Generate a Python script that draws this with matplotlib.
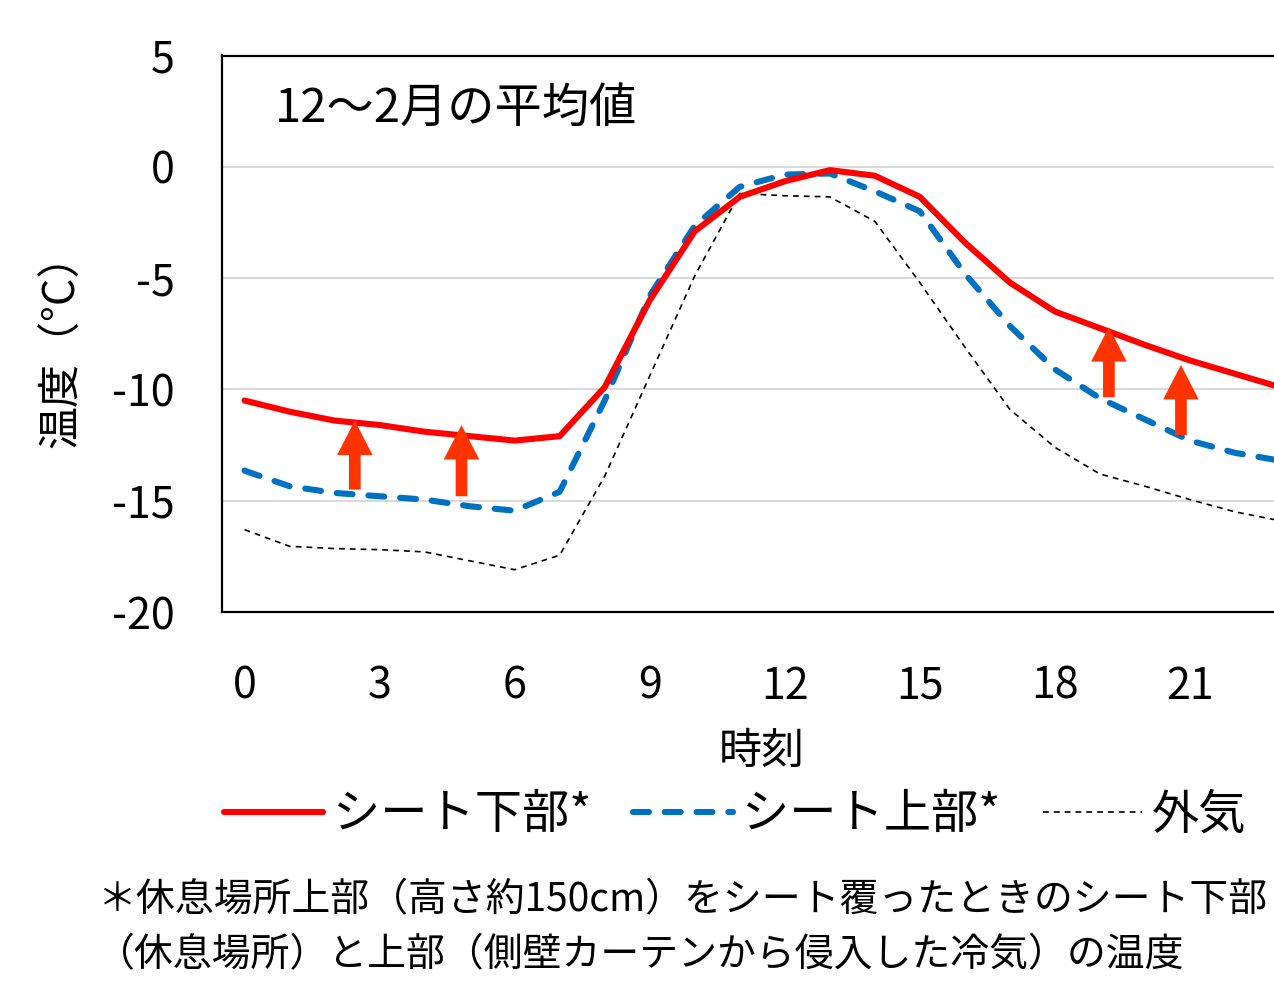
import matplotlib
matplotlib.use("Agg")
import matplotlib.pyplot as plt

plt.rcParams['font.family'] = ['Noto Sans CJK JP', 'DejaVu Sans']
plt.rcParams['axes.unicode_minus'] = False

# hourly averages, Dec-Feb
hours = list(range(24))
sheet_lower = [-10.5, -11.0, -11.4, -11.6, -11.9, -12.1, -12.3, -12.1, -9.9, -6.0,
               -2.9, -1.35, -0.65, -0.15, -0.4, -1.35, -3.4, -5.2, -6.5, -7.25,
               -8.0, -8.7, -9.3, -9.9]
sheet_upper = [-13.65, -14.35, -14.65, -14.8, -14.95, -15.25, -15.45, -14.6, -10.5, -5.8,
               -2.65, -0.9, -0.35, -0.3, -1.1, -2.0, -4.8, -7.15, -9.1, -10.4,
               -11.35, -12.3, -12.85, -13.2]
outside = [-16.3, -17.05, -17.15, -17.2, -17.3, -17.7, -18.1, -17.45, -13.9, -9.4,
           -4.9, -1.2, -1.3, -1.35, -2.45, -5.2, -8.1, -10.9, -12.6, -13.8,
           -14.35, -14.95, -15.5, -15.9]

# arrows: (hour, from, to)
arrow_x = [2.45, 4.82, 19.2, 20.8]
arrow_from = [-14.5, -14.8, -10.35, -12.05]
arrow_to = [-11.4, -11.6, -7.2, -8.9]

xticks = [0, 3, 6, 9, 12, 15, 18, 21]
yticks = [5, 0, -5, -10, -15, -20]

W, H = 1274, 982
fig = plt.figure(figsize=(W / 100, H / 100), dpi=100)
ax = fig.add_axes([222 / W, 1 - 612 / H, (1302.5 - 222) / W, (612 - 55.5) / H])

ax.plot(hours, outside, color='black', lw=1.2, dashes=(3.5, 3), label='外気', zorder=3)
ax.plot(hours, sheet_upper, color='#0070C0', lw=4.4, dashes=(2.6, 2.6),
        dash_capstyle='round', label='シート上部*', zorder=4)
ax.plot(hours, sheet_lower, color='#FF0000', lw=4.4, solid_capstyle='round',
        label='シート下部*', zorder=5)

for x, y0, y1 in zip(arrow_x, arrow_from, arrow_to):
    ax.arrow(x, y0, 0, y1 - y0, width=0.26, head_width=0.79, head_length=1.55,
             length_includes_head=True, color='#FF3300', lw=0, zorder=6)

ax.set_xlim(-0.5, 23.5)
ax.set_ylim(-20, 5)
ax.set_xticks(xticks)
ax.set_yticks(yticks)
ax.tick_params(axis='both', length=0, labelsize=31)
ax.tick_params(axis='x', pad=38)
ax.tick_params(axis='y', pad=34)
ax.grid(axis='y', color='#D9D9D9', lw=1.5)
ax.set_axisbelow(True)
for s in ax.spines.values():
    s.set_color('black')
    s.set_linewidth(1.6)

fig.text(275 / W, 1 - 110 / H, '12～2月の平均値', fontsize=34, va='center', ha='left')
fig.text(762 / W, 1 - 752 / H, '時刻', fontsize=31, va='center', ha='center')
fig.text(62 / W, 1 - 340 / H, '温度（°C）', fontsize=31, va='center', ha='center',
         rotation=90)

handles, labels = ax.get_legend_handles_labels()
order = [2, 1, 0]
fig.legend([handles[i] for i in order], [labels[i] for i in order],
           loc='center', bbox_to_anchor=(735 / W, 1 - 815 / H), ncol=3,
           frameon=False, fontsize=34, handlelength=2.1, handletextpad=0.2,
           columnspacing=0.9)

fig.text(98 / W, 1 - 900 / H, '＊休息場所上部（高さ約150cm）をシート覆ったときのシート下部',
         fontsize=28, va='center', ha='left')
fig.text(96 / W, 1 - 955 / H, '（休息場所）と上部（側壁カーテンから侵入した冷気）の温度',
         fontsize=28, va='center', ha='left')

fig.savefig('out.png', dpi=100)
